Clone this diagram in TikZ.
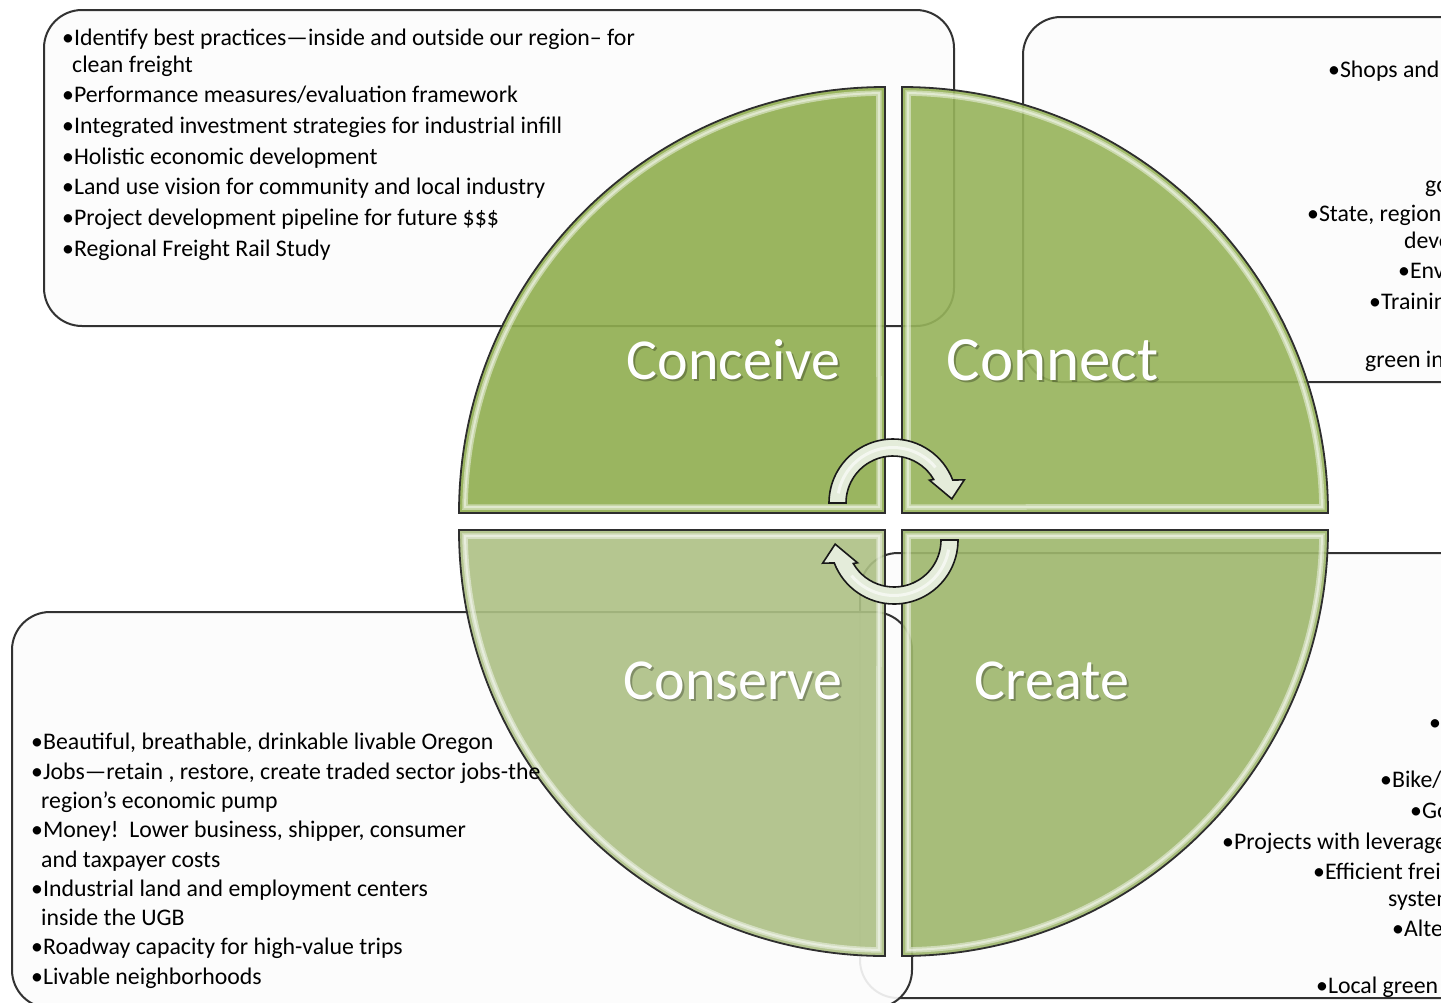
\documentclass[tikz,border=0pt]{standalone}
\usepackage{fontspec}
\setmainfont{Carlito}
\usetikzlibrary{calc}
\definecolor{gConceive}{RGB}{144,174,79}
\definecolor{gConnect}{RGB}{150,179,90}
\definecolor{gCreate}{RGB}{158,183,108}
\definecolor{gConserve}{RGB}{173,192,133}
\definecolor{arrowfill}{RGB}{228,236,218}
\definecolor{boxline}{RGB}{50,50,50}
\tikzset{
  boxframe/.style={draw=boxline, line width=2pt, fill=white!99!black, rounded corners=38pt},
  quad/.style={draw=black!82, line width=1.8pt, fill opacity=0.9},
  bevelband/.style={draw=white, line width=5.5pt, draw opacity=0.45, line join=miter},
  bevelcore/.style={draw=white, line width=2pt, draw opacity=0.45, line join=miter},
  lbl/.style={font=\fontsize{58}{62}\selectfont, text=white, anchor=base, inner sep=0pt},
  lblshadow/.style={font=\fontsize{58}{62}\selectfont, text=black, text opacity=0.28, anchor=base, inner sep=0pt},
  ln/.style={font=\fontsize{23.8}{28}\selectfont, anchor=base west, inner sep=0pt, text=black},
  cyc/.style={fill=arrowfill, draw=black!90, line width=1.6pt},
  cychl/.style={draw=white, line width=3pt, draw opacity=0.6},
}
\begin{document}
\begin{tikzpicture}[x=1pt,y=-1pt]
\useasboundingbox (0,0) rectangle (1441,1002);
\clip (0,0) rectangle (1441,1002);
\fill[white] (0,0) rectangle (1441,1002);
% text boxes (behind the wheel)
\draw[boxframe] (860,553) rectangle (1700,998);
\draw[boxframe, fill opacity=0.9] (12,612) rectangle (912,1008);
\draw[boxframe] (44,10) rectangle (954,326);
\draw[boxframe] (1023,17) rectangle (1700,382);
% quadrants
\draw[quad, fill=gConceive] (885,513) -- (459,513) arc[start angle=180, end angle=270, radius=426] -- cycle;
\draw[quad, fill=gConnect] (902,513) -- (902,87) arc[start angle=270, end angle=360, radius=426] -- cycle;
\draw[quad, fill=gConserve] (885,530) -- (459,530) arc[start angle=180, end angle=90, radius=426] -- cycle;
\draw[quad, fill=gCreate] (902,530) -- (1328,530) arc[start angle=0, end angle=90, radius=426] -- cycle;
% bevel highlights
\foreach \st in {bevelband, bevelcore}{
  \draw[\st] (879,507) -- (465.04,507) arc[start angle=180.82, end angle=269.18, radius=420] -- cycle;
  \draw[\st] (908,507) -- (908,93.04) arc[start angle=270.82, end angle=359.18, radius=420] -- cycle;
  \draw[\st] (879,536) -- (465.04,536) arc[start angle=179.18, end angle=90.82, radius=420] -- cycle;
  \draw[\st] (908,536) -- (1321.96,536) arc[start angle=0.82, end angle=89.18, radius=420] -- cycle;
}
% quadrant labels
\node[lblshadow] (conceiveS) at (735.5,381.5) {Conceive};
\node[lbl] (conceive) at (733.5,379) {Conceive};
\node[lblshadow, font=\fontsize{63}{66}\selectfont] (connectS) at (1054.5,382.5) {Connect};
\node[lbl, font=\fontsize{63}{66}\selectfont] (connect) at (1052.5,380) {Connect};
\node[lblshadow] (conserveS) at (735,701.5) {Conserve};
\node[lbl] (conserve) at (733,699) {Conserve};
\node[lblshadow] (createS) at (1054,701.5) {Create};
\node[lbl] (create) at (1052,699) {Create};
% top-left box text
\node[ln] (tl1) at (62,45) {•Identify best practices—inside and outside our region– for};
\node[ln] (tl1b) at (72,72) {clean freight};
\node[ln] (tl2) at (62,102) {•Performance measures/evaluation framework};
\node[ln] (tl3) at (62,133) {•Integrated investment strategies for industrial infill};
\node[ln] (tl4) at (62,164) {•Holistic economic development};
\node[ln] (tl5) at (62,194) {•Land use vision for community and local industry};
\node[ln] (tl6) at (62,225) {•Project development pipeline for future \$\$\$};
\node[ln] (tl7) at (62,256) {•Regional Freight Rail Study};
% top-right box text (cut by the page edge, as in the reference)
\node[ln] (tr1) at (1328,77) {•Shops and};
\node[ln] (tr2) at (1425,192) {go};
\node[ln] (tr3) at (1307,221) {•State, region};
\node[ln] (tr4) at (1404,248) {deve};
\node[ln] (tr5) at (1398,278) {•Env};
\node[ln] (tr6) at (1369,309) {•Trainin};
\node[ln] (tr7) at (1365,367) {green in};
% bottom-left box text
\node[ln] (bl1) at (31,749) {•Beautiful, breathable, drinkable livable Oregon};
\node[ln] (bl2) at (31,779) {•Jobs—retain , restore, create traded sector jobs-the};
\node[ln] (bl2b) at (41,808) {region’s economic pump};
\node[ln] (bl3) at (31,837) {•Money!\ \ Lower business, shipper, consumer};
\node[ln] (bl3b) at (41,867) {and taxpayer costs};
\node[ln] (bl4) at (31,896) {•Industrial land and employment centers};
\node[ln] (bl4b) at (41,925) {inside the UGB};
\node[ln] (bl5) at (31,954) {•Roadway capacity for high-value trips};
\node[ln] (bl6) at (31,984) {•Livable neighborhoods};
% bottom-right box text (cut by the page edge, as in the reference)
\node[ln] (br1) at (1429,730) {•I};
\node[ln] (br2) at (1380,787) {•Bike/};
\node[ln] (br3) at (1410,818) {•Go};
\node[ln] (br4) at (1222,849) {•Projects with leverage};
\node[ln] (br5) at (1313,879) {•Efficient frei};
\node[ln] (br5b) at (1388,906) {system};
\node[ln] (br6) at (1392,936) {•Alte};
\node[ln] (br7) at (1316,993) {•Local green};
% circular arrows
\coordinate (C1) at (893,503);
\coordinate (C2) at (894,540);
\draw[cyc] (829,503) arc[start angle=180, end angle=339, radius=64]
  -- ($(C1)+(342:75)$) -- ($(C1)+(356:59)$) -- ($(C1)+(328:43)$)
  -- ($(C1)+(330:47)$) arc[start angle=330, end angle=180, radius=47] -- cycle;
\draw[cychl] ($(C1)+(190:55.5)$) arc[start angle=190, end angle=320, radius=55.5];
\draw[cyc] (958,540) arc[start angle=0, end angle=159, radius=64]
  -- ($(C2)+(162:75)$) -- ($(C2)+(176:59)$) -- ($(C2)+(148:43)$)
  -- ($(C2)+(150:47)$) arc[start angle=150, end angle=0, radius=47] -- cycle;
\draw[cychl] ($(C2)+(10:55.5)$) arc[start angle=10, end angle=140, radius=55.5];
\end{tikzpicture}
\end{document}
